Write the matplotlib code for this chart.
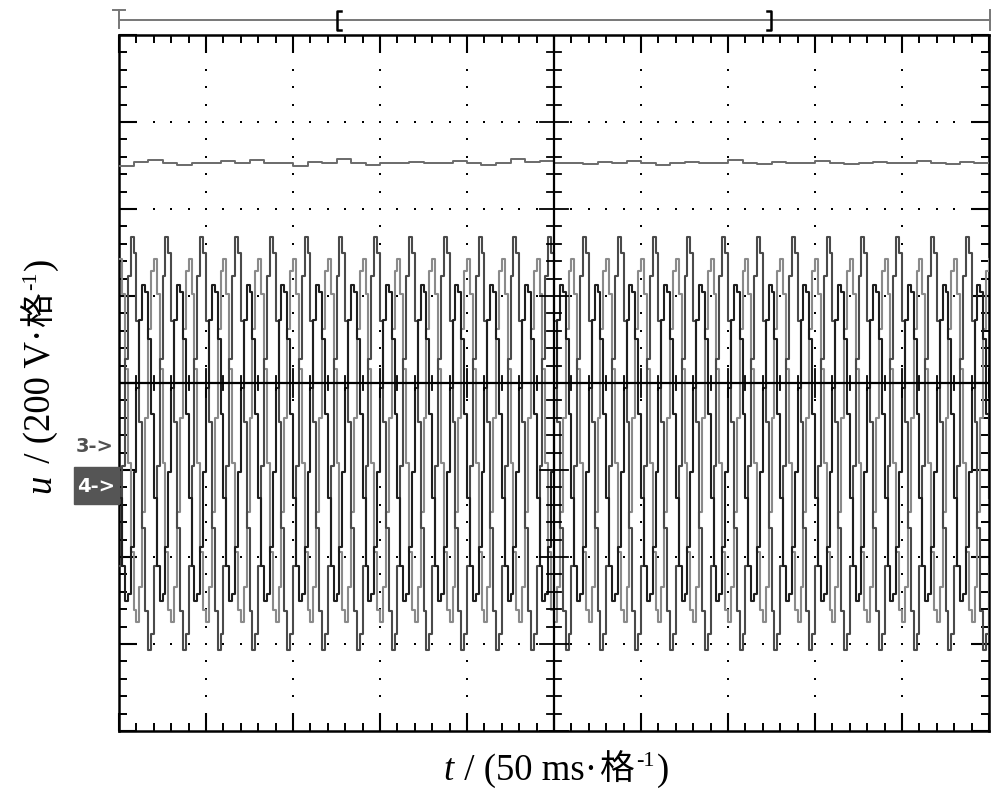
import matplotlib.pyplot as plt
import numpy as np
from matplotlib.transforms import IdentityTransform
from matplotlib.patches import Rectangle

# one 20 ms period of each phase voltage, 12 scope samples, in divisions (200 V/div)
phase_a = [-2.10, -0.95, 0.28, 1.23, 1.68, 1.49, 0.71, -0.45, -1.67, -2.62, -3.07, -2.88]
phase_b = [-1.32, -2.10, -2.51, -2.43, -1.89, -1.02, -0.06, 0.72, 1.13, 1.05, 0.51, -0.36]
phase_c = [1.43, 1.02, 0.16, -0.92, -1.94, -2.61, -2.75, -2.34, -1.48, -0.40, 0.62, 1.29]
n_cycles = 25          # 10 div * 50 ms / 20 ms
period_div = 0.4

# upper (dc) trace, divisions
dc_trace = [2.50, 2.54, 2.56, 2.53, 2.51, 2.53, 2.53, 2.55, 2.53, 2.56, 2.53, 2.53,
            2.50, 2.54, 2.53, 2.57, 2.53, 2.51, 2.53, 2.53, 2.54, 2.53, 2.53, 2.55,
            2.53, 2.51, 2.53, 2.57, 2.54, 2.55, 2.53, 2.53, 2.52, 2.54, 2.53, 2.55,
            2.53, 2.51, 2.53, 2.54, 2.53, 2.53, 2.56, 2.53, 2.52, 2.54, 2.53, 2.53,
            2.55, 2.53, 2.52, 2.53, 2.54, 2.53, 2.53, 2.55, 2.53, 2.52, 2.54, 2.53]

fig = plt.figure(figsize=(10, 7.95), dpi=100)
ax = fig.add_axes([0.119, 64 / 795, 0.870, 696 / 795])
ax.set_xlim(0, 10)
ax.set_ylim(-4, 4)

# graticule
for v in [1, 2, 3, 4, 6, 7, 8, 9]:
    yy = np.arange(-4, 4.01, 0.2)
    ax.plot(np.full_like(yy, v), yy, ls='none', marker='s', ms=1.6, color='black', mew=0)
for v in [-3, -2, -1, 1, 2, 3]:
    xx = np.arange(0, 10.01, 0.2)
    ax.plot(xx, np.full_like(xx, v), ls='none', marker='s', ms=1.6, color='black', mew=0)

ax.axvline(5, color='black', lw=1.6, zorder=5)
ax.axhline(0, color='black', lw=1.6, zorder=5)
for v in np.arange(-4, 4.01, 0.2):
    h = 0.16 if abs(v - round(v)) < 1e-6 else 0.08
    ax.plot([5 - h, 5 + h], [v, v], color='black', lw=1.3, zorder=5)
for v in np.arange(0, 10.01, 0.2):
    h = 0.16 if abs(v - round(v)) < 1e-6 else 0.08
    ax.plot([v, v], [-h, h], color='black', lw=1.3, zorder=5)

# traces
x = np.arange(n_cycles * 12 + 1) * period_div / 12
for data, col in [(phase_c, '#8a8a8a'), (phase_a, '#4a4a4a'), (phase_b, '#1e1e1e')]:
    y = np.array(data * n_cycles + data[:1])
    ax.step(x, y, where='post', color=col, lw=1.5, zorder=3)

xd = np.linspace(0, 10, len(dc_trace) + 1)
ax.step(xd, dc_trace + dc_trace[-1:], where='post', color='#6a6a6a', lw=1.4, zorder=3)

ax.set_xticks(np.arange(0, 11, 1))
ax.set_xticks(np.arange(0, 10.01, 0.2), minor=True)
ax.set_yticks(np.arange(-4, 5, 1))
ax.set_yticks(np.arange(-4, 4.01, 0.2), minor=True)
ax.tick_params(which='major', direction='in', length=13, width=1.5, top=True, right=True,
               labelbottom=False, labelleft=False)
ax.tick_params(which='minor', direction='in', length=6, width=1.4, top=True, right=True)
for s in ax.spines.values():
    s.set_linewidth(1.8)

# overlay in image pixel coordinates
ov = fig.add_axes([0, 0, 1, 1])
ov.set_xlim(0, 1000)
ov.set_ylim(795, 0)
ov.axis('off')
ov.plot([119, 990], [20, 20], color='#777777', lw=1.4)
ov.plot([119, 119], [10, 28], color='#777777', lw=1.4)
ov.plot([113, 125], [10, 10], color='#777777', lw=1.4)
ov.plot([990, 990], [10, 30], color='#777777', lw=1.4)
ov.plot([341, 337, 337, 341], [11, 11, 30, 30], color='black', lw=1.8)
ov.plot([767, 771, 771, 767], [11, 11, 30, 30], color='black', lw=1.8)

ov.text(95, 447, '3->', ha='center', va='center', fontsize=14, fontweight='bold',
        color='#505050', family='DejaVu Sans')
ov.add_patch(Rectangle((74, 467), 45, 37, color='#555555'))
ov.text(96, 486, '4->', ha='center', va='center', fontsize=14, fontweight='bold',
        color='white', family='DejaVu Sans')


def label_pieces(pieces, center, base, vertical=False):
    texts = []
    for s, kw, rise in pieces:
        t = fig.text(0, 0, s, transform=IdentityTransform(), rotation=90 if vertical else 0,
                     rotation_mode='anchor', ha='left', va='baseline', **kw)
        texts.append((t, rise))
    r = fig.canvas.get_renderer()
    sizes = []
    for t, _ in texts:
        bb = t.get_window_extent(r)
        sizes.append(bb.height if vertical else bb.width)
    pos = center - sum(sizes) / 2
    for (t, rise), sz in zip(texts, sizes):
        if vertical:
            t.set_position((base - rise, pos))
        else:
            t.set_position((pos, base + rise))
        pos += sz + 2


serif = dict(family='Liberation Serif', fontsize=26.5)
ital = dict(family='Liberation Serif', fontsize=26.5, style='italic')
cjk = dict(family='Noto Sans CJK SC', fontsize=25)
sup = dict(family='Liberation Serif', fontsize=16)

label_pieces([('t', ital, 0), (' / (50 ms·', serif, 0), ('格', cjk, 0),
              ('-1', sup, 14), (')', serif, 0)], 552, 795 - 780)
label_pieces([('u', ital, 0), (' / (200 V·', serif, 0), ('格', cjk, 0),
              ('-1', sup, 14), (')', serif, 0)], 795 - 379, 50, vertical=True)

fig.savefig('out.png', dpi=100)
